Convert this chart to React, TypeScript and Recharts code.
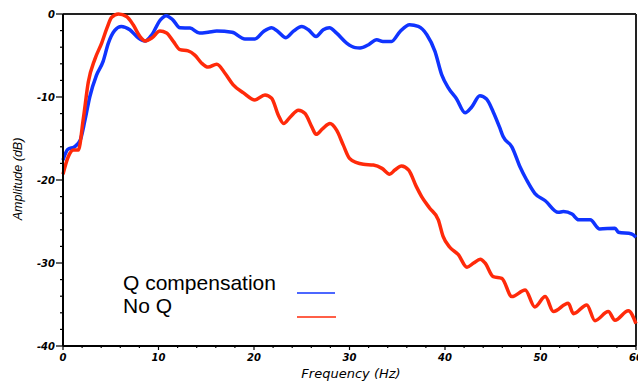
import { LineChart, Line, XAxis, YAxis, ReferenceLine } from "recharts"

// Q compensation (blue)
const blueFreq = [
    0, 0.5, 1.2, 1.8, 2.3, 2.8, 3.5, 4.2, 4.75, 5.4, 6.1, 7.0, 7.9, 8.6, 9.3, 10.2, 10.8, 11.5, 12.25, 13.3,
    14.3, 15.2, 16.1, 17.7, 19.05, 20.1, 21.0, 21.85, 22.5, 23.35, 24.1, 25.0, 25.7, 26.5, 27.25, 27.9, 28.65,
    29.7, 30.6, 31.1, 32.0, 32.85, 33.5, 34.4, 35.3, 36.3, 37.2, 38.1, 38.95, 39.65, 40.35, 41.2, 42.1, 42.8,
    43.65, 44.35, 45.05, 45.7, 46.1, 47.0, 47.85, 48.55, 49.4, 50.5, 51.85, 52.4, 53.3, 54.0, 55.2, 56.2, 57.8,
    58.15, 59.55, 60,
]
const blueAmp = [
    -17.6, -16.3, -16.0, -15.2, -12.8, -10.0, -7.4, -5.7, -3.5, -2.0, -1.5, -1.9, -2.9, -3.25, -2.5, -0.7, -0.2,
    -0.7, -1.65, -1.7, -2.3, -2.2, -2.05, -2.2, -3.0, -3.0, -2.1, -1.65, -2.1, -2.85, -2.1, -1.5, -1.9, -2.7, -1.9,
    -1.65, -2.3, -3.5, -4.05, -4.1, -3.7, -3.1, -3.3, -3.3, -2.1, -1.3, -1.5, -2.5, -4.5, -7.3, -8.9, -10.2, -11.9,
    -11.2, -9.85, -10.25, -11.8, -13.6, -14.8, -16.0, -18.4, -20.0, -21.6, -22.5, -23.9, -23.8, -24.1, -24.8,
    -24.8, -25.9, -25.8, -26.3, -26.5, -26.9,
]

// No Q (red)
const redFreq = [
    0, 0.55, 1.1, 1.6, 2.13, 2.65, 3.35, 4.05, 4.6, 5.1, 5.8, 6.65, 7.35, 8.05, 8.6, 9.3, 10.15, 10.85, 11.55,
    12.25, 13.1, 13.8, 14.5, 15.2, 16.1, 17.0, 17.8, 18.9, 20.1, 21.15, 21.85, 22.55, 23.1, 23.8, 24.65, 25.35,
    26.05, 26.5, 27.2, 27.95, 28.65, 29.35, 30.0, 30.75, 31.45, 32.5, 33.4, 34.2, 34.75, 35.45, 36.2, 37.0,
    37.55, 38.4, 39.3, 39.8, 40.5, 41.4, 42.3, 43.0, 43.7, 44.2, 45.05, 45.95, 47.0, 48.4, 49.4, 50.5, 51.35,
    52.9, 53.45, 54.85, 55.7, 57.1, 57.8, 59.2, 60,
]
const redAmp = [
    -19.3, -17.2, -16.4, -16.4, -12.6, -8.2, -5.4, -3.5, -1.7, -0.4, 0, -0.3, -1.3, -2.7, -3.25, -2.9, -2.05,
    -2.3, -3.3, -4.3, -4.45, -4.95, -5.9, -6.4, -6.05, -7.2, -8.5, -9.5, -10.35, -9.75, -10.15, -12.2, -13.2,
    -12.4, -11.6, -12.0, -13.6, -14.5, -13.8, -13.2, -14.0, -15.8, -17.4, -17.9, -18.1, -18.2, -18.6, -19.3,
    -18.8, -18.3, -18.8, -20.8, -22.0, -23.4, -24.8, -26.8, -28.1, -29.0, -30.5, -30.0, -29.55, -30.0, -31.65,
    -31.85, -34.05, -33.25, -35.3, -34.05, -35.85, -34.85, -36.1, -35.05, -36.95, -35.85, -36.9, -35.75, -37.3,
]

const freqTicks = [0, 2, 4, 6, 8, 10, 12, 14, 16, 18, 20, 22, 24, 26, 28, 30, 32, 34, 36, 38, 40, 42, 44, 46, 48, 50, 52, 54, 56, 58, 60]
const ampTicks = [-40, -38, -36, -34, -32, -30, -28, -26, -24, -22, -20, -18, -16, -14, -12, -10, -8, -6, -4, -2, 0]

const BLUE = "#1034ff"
const RED = "#ff2a0a"

const blueData = blueFreq.map((f, i) => ({ f, v: blueAmp[i] }))
const redData = redFreq.map((f, i) => ({ f, v: redAmp[i] }))

const AXIS_X = 63
const AXIS_Y = 346
const tickFont = { fontFamily: "DejaVu Sans", fontSize: 10, fontWeight: 700, fontStyle: "italic" as const }

function YTick(props: any) {
    const { y, payload } = props
    const major = payload.value % 10 === 0
    return (
        <g>
            <line x1={AXIS_X - (major ? 7 : 3)} x2={AXIS_X} y1={y} y2={y} stroke="#000" strokeWidth={1.2} />
            {major && (
                <text x={55} y={y + 4} textAnchor="end" fill="#000" style={tickFont}>
                    {payload.value}
                </text>
            )}
        </g>
    )
}

function XTick(props: any) {
    const { x, payload } = props
    const major = payload.value % 10 === 0
    return (
        <g>
            <line x1={x} x2={x} y1={AXIS_Y} y2={AXIS_Y + (major ? 4 : 2)} stroke="#000" strokeWidth={1.2} />
            {major && (
                <text x={x} y={AXIS_Y + 15} textAnchor="middle" fill="#000" style={tickFont}>
                    {payload.value}
                </text>
            )}
        </g>
    )
}

export default function App() {
    return (
        <div style={{ position: "absolute", left: 0, top: 0, width: 638, height: 383, background: "#fff" }}>
            <LineChart width={638} height={383} margin={{ top: 14, right: 2, left: 0, bottom: 7 }}>
                <XAxis
                    dataKey="f"
                    type="number"
                    domain={[0, 60]}
                    ticks={freqTicks}
                    interval={0}
                    tick={<XTick />}
                    tickLine={false}
                    axisLine={{ stroke: "#000", strokeWidth: 2 }}
                    height={30}
                    allowDuplicatedCategory={false}
                />
                <YAxis
                    type="number"
                    domain={[-40, 0]}
                    ticks={ampTicks}
                    interval={0}
                    tick={<YTick />}
                    tickLine={false}
                    axisLine={{ stroke: "#000", strokeWidth: 2 }}
                    width={63}
                />
                <ReferenceLine y={0} stroke="#222" strokeWidth={2} />
                <ReferenceLine x={60} stroke="#222" strokeWidth={2} />
                <Line data={blueData} dataKey="v" type="monotone" stroke={BLUE} strokeWidth={3.5} dot={false} isAnimationActive={false} />
                <Line data={redData} dataKey="v" type="monotone" stroke={RED} strokeWidth={3.5} dot={false} isAnimationActive={false} />
            </LineChart>
            <svg width={638} height={383} style={{ position: "absolute", left: 0, top: 0, pointerEvents: "none" }}>
                <text
                    transform="translate(22,179) rotate(-90)"
                    textAnchor="middle"
                    style={{ fontFamily: "Liberation Sans", fontSize: 12.5, fontStyle: "italic" }}
                >
                    Amplitude (dB)
                </text>
                <text x={351} y={378} textAnchor="middle" style={{ fontFamily: "DejaVu Sans", fontSize: 13, fontStyle: "italic" }}>
                    Frequency (Hz)
                </text>
                <text x={123} y={290} style={{ fontFamily: "Liberation Sans", fontSize: 21 }}>
                    Q compensation
                </text>
                <line x1={297} x2={335} y1={293} y2={293} stroke={BLUE} strokeWidth={1.5} />
                <text x={123} y={313} style={{ fontFamily: "Liberation Sans", fontSize: 21 }}>
                    No Q
                </text>
                <line x1={297} x2={336} y1={317} y2={317} stroke={RED} strokeWidth={1.5} />
            </svg>
        </div>
    )
}
